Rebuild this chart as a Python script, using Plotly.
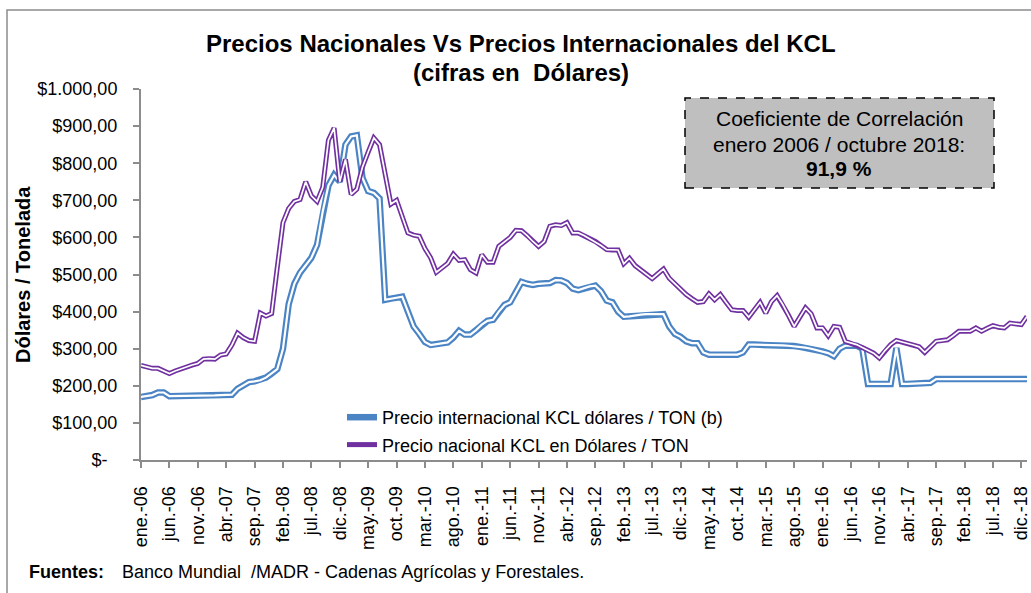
import plotly.graph_objects as go

# ---- data (monthly, ene-2006 ... ene-2019) ----
meses = ["ene.", "feb.", "mar.", "abr.", "may.", "jun.", "jul.", "ago.", "sep.", "oct.", "nov.", "dic."]
categorias = [f"{meses[m]}-{str(y)[2:]}" for y in range(2006, 2020) for m in range(12)][:157]

precio_internacional = [
    170, 172, 175, 182, 182, 172, 172, 173, 173, 173, 173, 173,
    173, 174, 175, 175, 176, 192, 200, 210, 212, 215, 222, 233,
    245, 300, 420, 475, 505, 525, 545, 580, 670, 740, 768, 750,
    850, 872, 875, 760, 725, 720, 705, 432, 435, 438, 440, 400,
    360, 340, 318, 310, 312, 315, 317, 330, 348, 338, 338, 350,
    365, 375, 378, 400, 418, 425, 452, 480, 475, 472, 475, 476,
    477, 485, 484, 477, 462, 458, 463, 468, 470, 455, 430, 425,
    400, 386, 387, 390, 392, 393, 393, 394, 393, 360, 340, 332,
    320, 315, 315, 290, 284, 284, 284, 284, 284, 284, 290, 311,
    311, 311, 310, 310, 309, 309, 308, 307, 305, 303, 300, 296,
    293, 288, 280, 300, 308, 308, 308, 300, 205, 205, 205, 205,
    205, 302, 205, 205, 206, 206, 207, 208, 218, 218, 218, 218,
    218, 218, 218, 218, 218, 218, 218, 218, 218, 218, 218, 218,
    218,
]

precio_nacional = [
    255, 250, 247, 247, 240, 233, 240, 246, 252, 256, 260, 272,
    273, 272, 283, 286, 310, 342, 330, 322, 320, 396, 388, 395,
    520, 640, 678, 697, 702, 750, 712, 697, 735, 862, 895, 750,
    810, 716, 730, 790, 830, 868, 850, 770, 690, 700, 655, 612,
    606, 603, 570, 545, 506, 518, 530, 555, 538, 540, 513, 504,
    553, 533, 533, 576, 589, 600, 619, 618, 605, 589, 576, 589,
    630, 634, 632, 640, 612, 612, 605, 596, 589, 578, 567, 566,
    566, 529, 544, 524, 513, 500, 489, 502, 515, 490, 475, 462,
    446, 435, 425, 427, 448, 432, 446, 425, 405, 403, 403, 385,
    405, 425, 396, 427, 443, 419, 390, 360, 385, 410, 394, 356,
    356, 335, 360, 358, 320, 315, 311, 303, 296, 288, 275, 295,
    311, 322, 318, 315, 310, 305, 290, 305, 320, 322, 324, 335,
    347, 347, 347, 356, 347, 355, 362, 358, 356, 369, 366, 365,
    387,
]

y_ticks = [0, 100, 200, 300, 400, 500, 600, 700, 800, 900, 1000]
y_labels = ["$-\u00a0\u00a0", "$100,00", "$200,00", "$300,00", "$400,00", "$500,00",
            "$600,00", "$700,00", "$800,00", "$900,00", "$1.000,00"]

nombre_int = "Precio internacional KCL dólares / TON (b)"
nombre_nac = "Precio nacional KCL en Dólares / TON"

BLUE = "#4a84c4"
PURPLE = "#7030a0"
FONT = "Liberation Sans, Arial, sans-serif"

x = list(range(len(categorias)))
tick_idx = list(range(0, len(categorias), 5))
tick_txt = [categorias[i] for i in tick_idx]

fig = go.Figure()
fig.add_trace(go.Scatter(x=x, y=precio_internacional, mode="lines", name=nombre_int,
                         line=dict(color=BLUE, width=6.5), legendgroup="a", hoverinfo="x+y"))
fig.add_trace(go.Scatter(x=x, y=precio_internacional, mode="lines", showlegend=False,
                         line=dict(color="white", width=2.2), legendgroup="a", hoverinfo="skip"))
fig.add_trace(go.Scatter(x=x, y=precio_nacional, mode="lines", name=nombre_nac,
                         line=dict(color=PURPLE, width=5), legendgroup="b", hoverinfo="x+y"))
fig.add_trace(go.Scatter(x=x, y=precio_nacional, mode="lines", showlegend=False,
                         line=dict(color="white", width=1.7), legendgroup="b", hoverinfo="skip"))

L, R, T, B = 141, 4, 89, 133
W, H = 1031, 593
PW, PH = W - L - R, H - T - B


def px(v):
    return (v - L) / PW


def py(v):
    return (H - B - v) / PH


fig.update_layout(
    width=W, height=H,
    margin=dict(l=L, r=R, t=T, b=B, autoexpand=False),
    paper_bgcolor="white", plot_bgcolor="white",
    font=dict(family=FONT, size=18, color="black"),
    showlegend=True,
    legend=dict(x=px(342), y=py(399), xanchor="left", yanchor="top",
                bgcolor="rgba(0,0,0,0)", font=dict(size=18, family=FONT),
                tracegroupgap=1),
)

fig.update_xaxes(range=[0, len(categorias) - 1], tickmode="array", tickvals=tick_idx,
                 ticktext=tick_txt, tickangle=-90, showgrid=False, zeroline=False,
                 showline=True, linecolor="#8c8c8c", linewidth=2, automargin=False,
                 ticks="outside", ticklen=6, tickwidth=1.5, tickcolor="#8c8c8c",
                 ticklabeloverflow="allow",
                 tickfont=dict(size=18, family=FONT), ticklabelstandoff=11)
fig.update_yaxes(range=[0, 1000], tickmode="array", tickvals=y_ticks, ticktext=y_labels,
                 showgrid=False, zeroline=False, showline=True, linecolor="#8c8c8c",
                 linewidth=2, ticks="outside", ticklen=6, tickwidth=1.5, tickcolor="#8c8c8c",
                 automargin=False, ticklabeloverflow="allow",
                 tickfont=dict(size=18, family=FONT), ticklabelstandoff=12)

shapes = [
    dict(type="rect", xref="paper", yref="paper", x0=px(7), x1=px(1040), y0=py(600), y1=py(10),
         line=dict(color="#8c8c8c", width=1.5), fillcolor="rgba(0,0,0,0)", layer="below"),
    dict(type="rect", xref="paper", yref="paper", x0=px(685), x1=px(994), y0=py(188), y1=py(98),
         line=dict(color="black", width=1.5, dash="dash"), fillcolor="#bfbfbf", layer="above"),
]
fig.update_layout(shapes=shapes)

ann = [
    dict(text="<b>Precios Nacionales Vs Precios Internacionales del KCL</b>", x=px(521), y=py(43),
         font=dict(size=24)),
    dict(text="<b>(cifras en  Dólares)</b>", x=px(521), y=py(72), font=dict(size=24)),
    dict(text="<b>Dólares / Tonelada</b>", x=px(23), y=py(275), textangle=-90, font=dict(size=20)),
    dict(text="Coeficiente de Correlación", x=px(839), y=py(119), font=dict(size=21)),
    dict(text="enero 2006 / octubre 2018:", x=px(839), y=py(144), font=dict(size=21)),
    dict(text="<b>91,9 %</b>", x=px(839), y=py(168), font=dict(size=21)),
    dict(text="<b>Fuentes:</b>", x=px(27), y=py(572), xanchor="left", font=dict(size=18)),
    dict(text="Banco Mundial  /MADR - Cadenas Agrícolas y Forestales.", x=px(120), y=py(572),
         xanchor="left", font=dict(size=18)),
]
for a in ann:
    a.setdefault("xanchor", "center")
    a.update(xref="paper", yref="paper", showarrow=False, yanchor="middle")
    a["font"].update(family=FONT, color="black")
fig.update_layout(annotations=ann)

fig.write_html("out.html", config={"displayModeBar": False},
               post_script="document.body.style.margin='0';")
